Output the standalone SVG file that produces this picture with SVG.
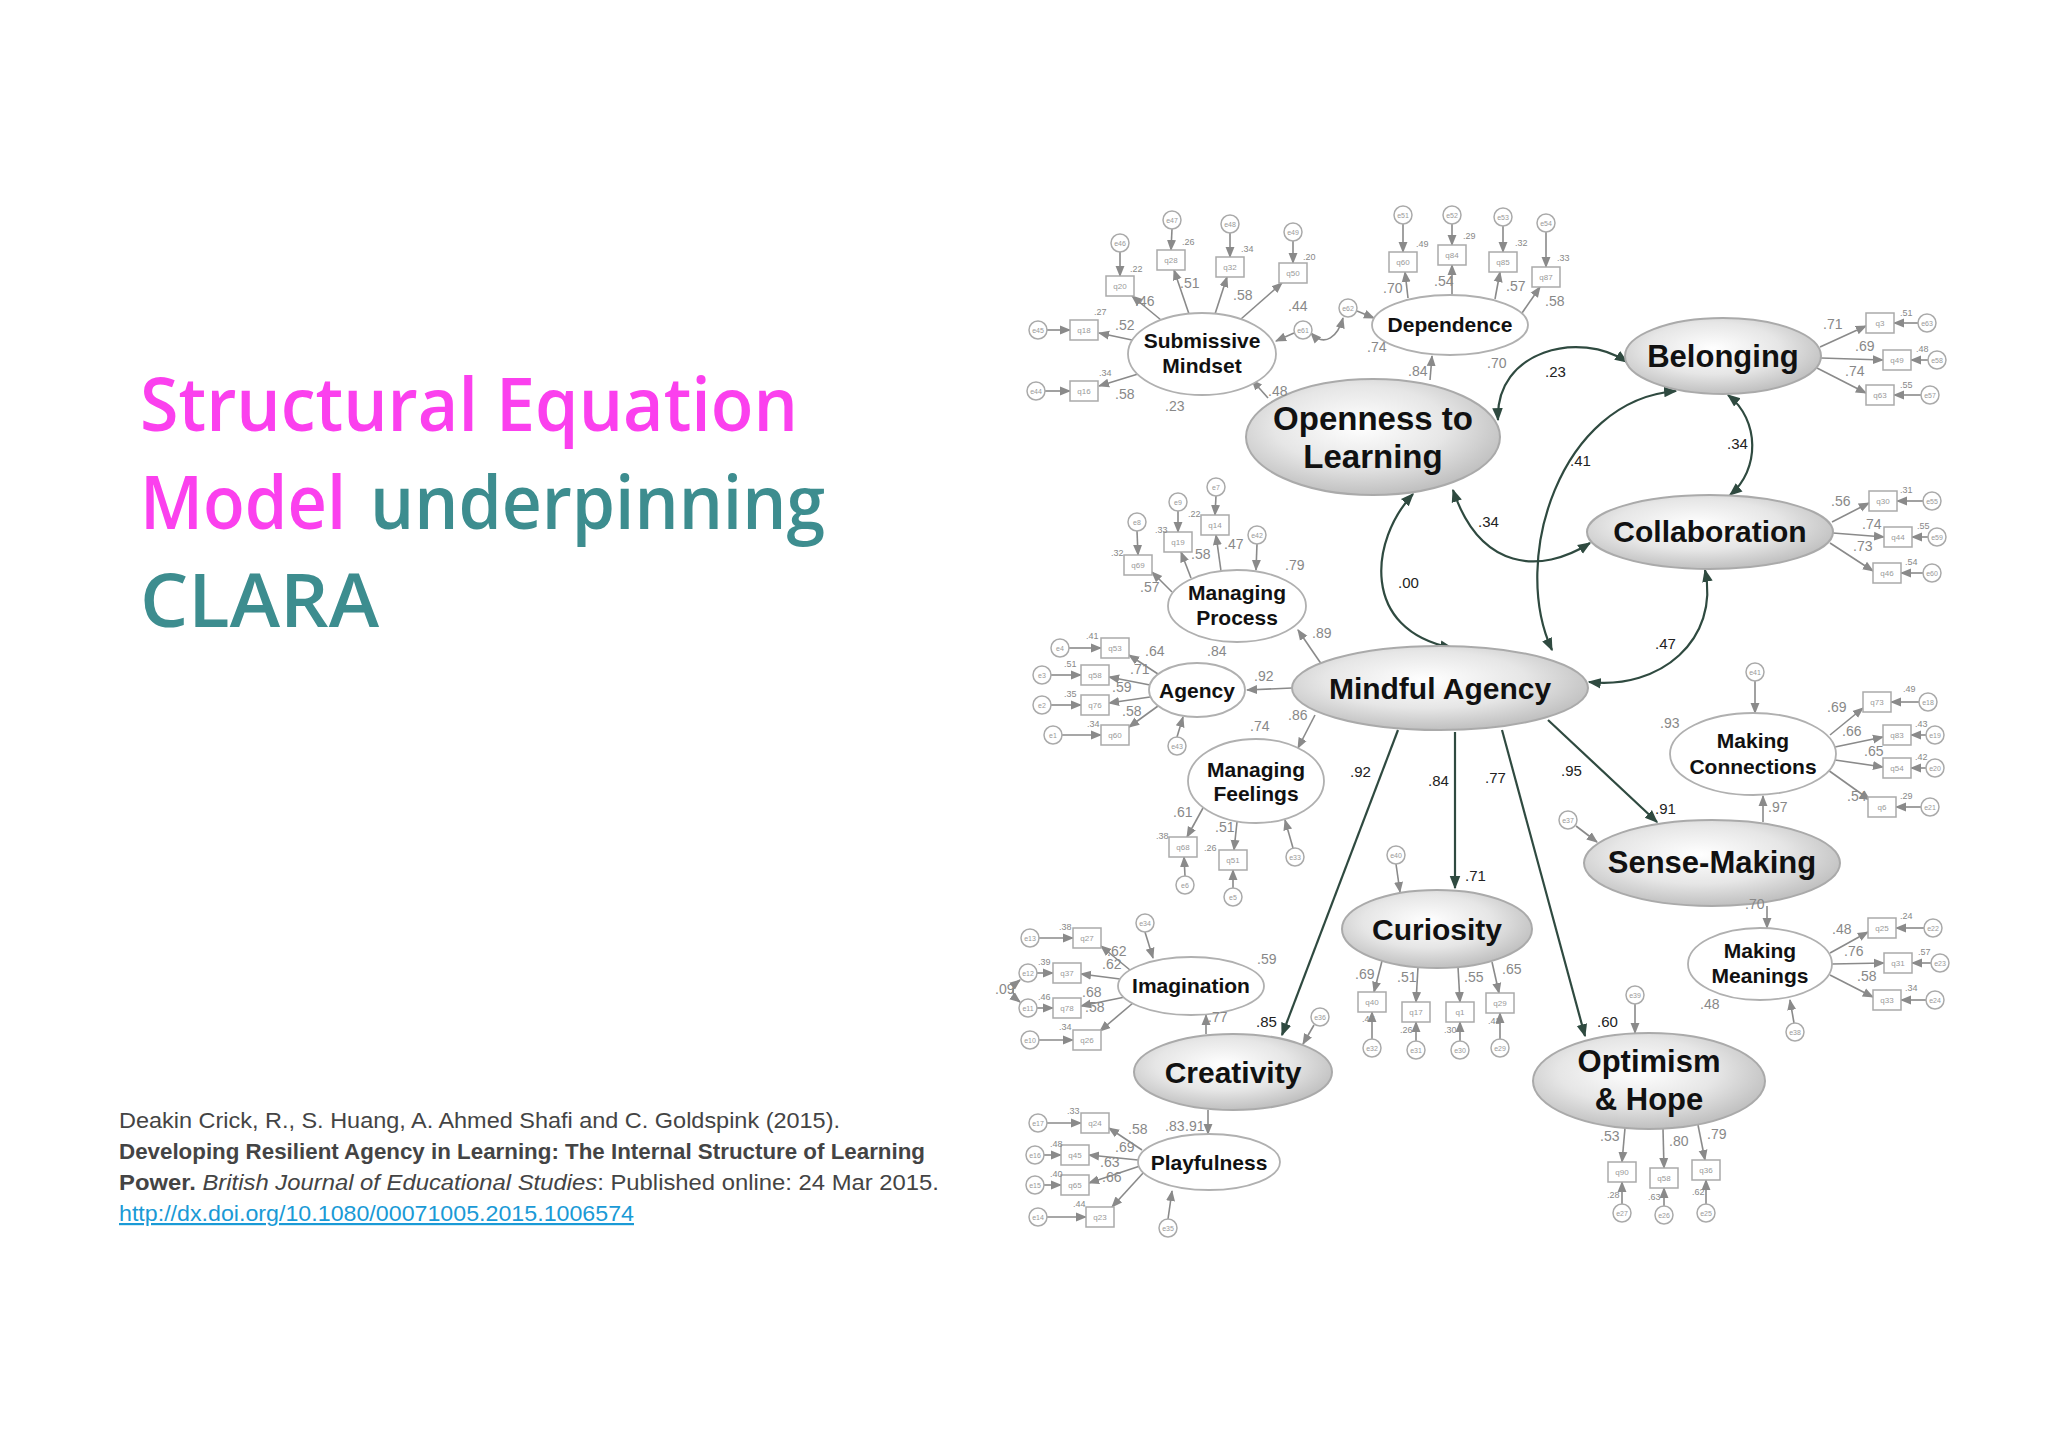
<svg xmlns="http://www.w3.org/2000/svg" width="2048" height="1447" viewBox="0 0 2048 1447">
<style>
.t{font-family:"Liberation Sans",Arial,sans-serif}
.lat{fill:url(#g);stroke:#aaa;stroke-width:2}
.sm{fill:#fff;stroke:#b0b0b0;stroke-width:1.8}
.nb{font-family:"Liberation Sans",Arial,sans-serif;font-weight:bold;fill:#111;text-anchor:middle}
.box{fill:#fff;stroke:#aaa;stroke-width:1.5}
.err{fill:#fff;stroke:#aaa;stroke-width:1.5}
.bl{font-family:"Liberation Sans",Arial,sans-serif;font-size:8px;fill:#999;text-anchor:middle}
.el{font-family:"Liberation Sans",Arial,sans-serif;font-size:7px;fill:#999;text-anchor:middle}
.sq{font-family:"Liberation Sans",Arial,sans-serif;font-size:9px;fill:#888}
.ld{font-family:"Liberation Sans",Arial,sans-serif;font-size:14px;fill:#888}
.sl{font-family:"Liberation Sans",Arial,sans-serif;font-size:15px;fill:#222}
.gl{stroke:#8a8a8a;stroke-width:1.6;fill:none;marker-end:url(#ag)}
.dl{stroke:#2f4a40;stroke-width:2.2;fill:none;marker-end:url(#ad)}
.dc{stroke:#2f4a40;stroke-width:2.2;fill:none;marker-end:url(#ad);marker-start:url(#ad)}
.ti{font-family:"Open Sans","Noto Sans",sans-serif;font-size:74px;font-weight:600}
</style>
<defs>
<radialGradient id="g" cx="45%" cy="40%" r="62%">
<stop offset="0" stop-color="#ffffff"/><stop offset="0.55" stop-color="#e6e6e6"/><stop offset="1" stop-color="#bdbdbd"/>
</radialGradient>
<marker id="ag" viewBox="0 0 10 10" refX="9" refY="5" markerWidth="7" markerHeight="7" orient="auto-start-reverse"><path d="M0,1L10,5L0,9z" fill="#8a8a8a"/></marker>
<marker id="ad" viewBox="0 0 10 10" refX="9" refY="5" markerWidth="6" markerHeight="6" orient="auto-start-reverse"><path d="M0,1L10,5L0,9z" fill="#2f4a40"/></marker>
</defs>
<rect width="2048" height="1447" fill="#fff"/>

<g id="title">
<text class="ti" x="140" y="431" fill="#fb40ee" textLength="658" lengthAdjust="spacingAndGlyphs">Structural Equation</text>
<text class="ti" x="140" y="529" fill="#fb40ee" textLength="206" lengthAdjust="spacingAndGlyphs">Model</text>
<text class="ti" x="370" y="529" fill="#3d8d8f" textLength="455" lengthAdjust="spacingAndGlyphs">underpinning</text>
<text class="ti" x="140" y="627" fill="#3d8d8f" textLength="239" lengthAdjust="spacingAndGlyphs">CLARA</text>
</g>
<g id="citation" class="t" font-size="22" fill="#444">
<text x="119" y="1128" textLength="721" lengthAdjust="spacingAndGlyphs">Deakin Crick, R., S. Huang, A. Ahmed Shafi and C. Goldspink (2015).</text>
<text x="119" y="1159" font-weight="bold" textLength="806" lengthAdjust="spacingAndGlyphs">Developing Resilient Agency in Learning: The Internal Structure of Learning</text>
<text x="119" y="1190" textLength="820" lengthAdjust="spacingAndGlyphs"><tspan font-weight="bold">Power.</tspan> <tspan font-style="italic">British Journal of Educational Studies</tspan>: Published online: 24 Mar 2015.</text>
<text x="119" y="1221" fill="#1a9ad6" text-decoration="underline" textLength="515" lengthAdjust="spacingAndGlyphs">http://dx.doi.org/10.1080/00071005.2015.1006574</text>
</g>

<g id="connectors">
<path class="dl" d="M1398,730 L1282,1035"/>
<path class="dl" d="M1455,732 L1455,888"/>
<path class="dl" d="M1502,730 L1585,1036"/>
<path class="dl" d="M1548,720 L1657,822"/>
<path class="dc" d="M1498,420 C1495,350 1580,330 1627,362"/>
<path class="dc" d="M1728,395 C1760,420 1760,470 1730,495"/>
<path class="dc" d="M1453,490 C1480,570 1540,575 1590,543"/>
<path class="dc" d="M1676,391 C1560,400 1510,560 1552,650"/>
<path class="dc" d="M1589,682 C1660,690 1720,640 1705,570"/>
<path class="dc" d="M1413,494 C1370,540 1360,630 1452,648"/>
<path class="gl" d="M1268,398 L1252,380"/>
<path class="gl" d="M1430,380 L1432,356"/>
<path class="gl" d="M1322,665 L1298,630"/>
<path class="gl" d="M1292,688 L1247,690"/>
<path class="gl" d="M1315,715 L1298,748"/>
<path class="gl" d="M1206,1034 L1206,1015"/>
<path class="gl" d="M1208,1110 L1208,1134"/>
<path class="gl" d="M1763,822 L1763,796"/>
<path class="gl" d="M1767,906 L1767,928"/>
<path class="gl" d="M1294,333 L1276,341"/>
<path class="gl" d="M1357,311 L1374,318"/>
<path class="gl" d="M1311,333 C1325,348 1338,336 1343,318" marker-start="url(#ag)"/>
<path class="gl" d="M1257,544 L1256,570"/>
<path class="gl" d="M1177,737 L1183,717"/>
<path class="gl" d="M1293,848 L1285,820"/>
<path class="gl" d="M1396,864 L1400,892"/>
<path class="gl" d="M1145,932 L1153,958"/>
<path class="gl" d="M1314,1025 L1303,1044"/>
<path class="gl" d="M1168,1219 L1172,1191"/>
<path class="gl" d="M1576,826 L1597,842"/>
<path class="gl" d="M1755,681 L1755,713"/>
<path class="gl" d="M1794,1023 L1790,1000"/>
<path class="gl" d="M1635,1004 L1635,1033"/>
<path class="gl" d="M1020,980 Q1006,991 1020,1002" marker-start="url(#ag)"/>
<path class="gl" d="M1161,320 L1132,296"/><path class="gl" d="M1120,252 L1120,276"/>
<path class="gl" d="M1189,314 L1174,270"/><path class="gl" d="M1172,229 L1171,250"/>
<path class="gl" d="M1215,314 L1227,277"/><path class="gl" d="M1230,233 L1230,257"/>
<path class="gl" d="M1241,319 L1282,283"/><path class="gl" d="M1293,241 L1293,263"/>
<path class="gl" d="M1132,340 L1099,333"/><path class="gl" d="M1047,330 L1070,330"/>
<path class="gl" d="M1138,374 L1099,386"/><path class="gl" d="M1045,391 L1070,391"/>
<path class="gl" d="M1408,298 L1405,272"/><path class="gl" d="M1403,224 L1403,252"/>
<path class="gl" d="M1452,295 L1452,265"/><path class="gl" d="M1452,224 L1452,245"/>
<path class="gl" d="M1495,299 L1500,272"/><path class="gl" d="M1503,226 L1503,252"/>
<path class="gl" d="M1522,313 L1540,287"/><path class="gl" d="M1546,232 L1546,267"/>
<path class="gl" d="M1820,347 L1866,326"/><path class="gl" d="M1918,323 L1894,323"/>
<path class="gl" d="M1821,358 L1883,360"/><path class="gl" d="M1928,360 L1911,360"/>
<path class="gl" d="M1817,368 L1866,393"/><path class="gl" d="M1921,395 L1894,395"/>
<path class="gl" d="M1832,522 L1869,503"/><path class="gl" d="M1923,501 L1897,501"/>
<path class="gl" d="M1833,533 L1884,537"/><path class="gl" d="M1928,537 L1912,537"/>
<path class="gl" d="M1830,543 L1873,571"/><path class="gl" d="M1923,573 L1901,573"/>
<path class="gl" d="M1172,592 L1152,572"/><path class="gl" d="M1137,531 L1138,555"/>
<path class="gl" d="M1191,578 L1181,552"/><path class="gl" d="M1178,511 L1178,532"/>
<path class="gl" d="M1221,571 L1216,535"/><path class="gl" d="M1216,496 L1215,515"/>
<path class="gl" d="M1158,674 L1129,655"/><path class="gl" d="M1069,648 L1101,648"/>
<path class="gl" d="M1150,685 L1109,677"/><path class="gl" d="M1051,675 L1081,675"/>
<path class="gl" d="M1150,697 L1109,703"/><path class="gl" d="M1051,705 L1081,705"/>
<path class="gl" d="M1158,706 L1129,727"/><path class="gl" d="M1062,735 L1101,735"/>
<path class="gl" d="M1203,808 L1187,837"/><path class="gl" d="M1185,876 L1184,857"/>
<path class="gl" d="M1237,822 L1234,850"/><path class="gl" d="M1233,888 L1233,870"/>
<path class="gl" d="M1382,961 L1374,992"/><path class="gl" d="M1372,1039 L1372,1012"/>
<path class="gl" d="M1418,967 L1416,1002"/><path class="gl" d="M1416,1041 L1416,1022"/>
<path class="gl" d="M1458,967 L1460,1002"/><path class="gl" d="M1460,1041 L1460,1022"/>
<path class="gl" d="M1492,962 L1499,993"/><path class="gl" d="M1500,1039 L1500,1013"/>
<path class="gl" d="M1130,970 L1101,946"/><path class="gl" d="M1039,938 L1073,938"/>
<path class="gl" d="M1120,979 L1081,974"/><path class="gl" d="M1037,973 L1053,973"/>
<path class="gl" d="M1125,997 L1081,1006"/><path class="gl" d="M1037,1008 L1053,1008"/>
<path class="gl" d="M1133,1003 L1100,1031"/><path class="gl" d="M1039,1040 L1073,1040"/>
<path class="gl" d="M1142,1150 L1109,1128"/><path class="gl" d="M1047,1123 L1081,1123"/>
<path class="gl" d="M1138,1160 L1089,1155"/><path class="gl" d="M1044,1155 L1061,1155"/>
<path class="gl" d="M1140,1166 L1089,1183"/><path class="gl" d="M1044,1185 L1061,1185"/>
<path class="gl" d="M1144,1172 L1112,1207"/><path class="gl" d="M1047,1217 L1086,1217"/>
<path class="gl" d="M1830,735 L1863,708"/><path class="gl" d="M1919,702 L1891,702"/>
<path class="gl" d="M1835,747 L1883,737"/><path class="gl" d="M1926,735 L1911,735"/>
<path class="gl" d="M1835,760 L1883,767"/><path class="gl" d="M1926,768 L1911,768"/>
<path class="gl" d="M1828,770 L1870,800"/><path class="gl" d="M1921,807 L1896,807"/>
<path class="gl" d="M1830,953 L1868,932"/><path class="gl" d="M1924,928 L1896,928"/>
<path class="gl" d="M1832,964 L1884,963"/><path class="gl" d="M1931,963 L1912,963"/>
<path class="gl" d="M1830,975 L1873,997"/><path class="gl" d="M1926,1000 L1901,1000"/>
<path class="gl" d="M1625,1128 L1622,1162"/><path class="gl" d="M1622,1204 L1622,1182"/>
<path class="gl" d="M1663,1129 L1664,1168"/><path class="gl" d="M1664,1206 L1664,1188"/>
<path class="gl" d="M1698,1125 L1705,1160"/><path class="gl" d="M1706,1204 L1706,1180"/>
</g>

<g id="openness"><ellipse class="lat" cx="1373" cy="437" rx="127" ry="58"/><text class="nb" font-size="33" x="1373" y="430">Openness to</text><text class="nb" font-size="33" x="1373" y="468">Learning</text></g>
<g id="belonging"><ellipse class="lat" cx="1723" cy="356" rx="98" ry="38"/><text class="nb" font-size="31" x="1723" y="367">Belonging</text></g>
<g id="collaboration"><ellipse class="lat" cx="1710" cy="532" rx="123" ry="37"/><text class="nb" font-size="30" x="1710" y="542">Collaboration</text></g>
<g id="mindful-agency"><ellipse class="lat" cx="1440" cy="688" rx="148" ry="42"/><text class="nb" font-size="30" x="1440" y="699">Mindful Agency</text></g>
<g id="sense-making"><ellipse class="lat" cx="1712" cy="863" rx="128" ry="43"/><text class="nb" font-size="31" x="1712" y="873">Sense-Making</text></g>
<g id="curiosity"><ellipse class="lat" cx="1437" cy="929" rx="95" ry="39"/><text class="nb" font-size="30" x="1437" y="940">Curiosity</text></g>
<g id="creativity"><ellipse class="lat" cx="1233" cy="1072" rx="99" ry="38"/><text class="nb" font-size="30" x="1233" y="1083">Creativity</text></g>
<g id="optimism"><ellipse class="lat" cx="1649" cy="1081" rx="116" ry="48"/><text class="nb" font-size="31" x="1649" y="1072">Optimism</text><text class="nb" font-size="31" x="1649" y="1110">&amp; Hope</text></g>
<g id="submissive"><ellipse class="sm" cx="1202" cy="354" rx="74" ry="41"/><text class="nb" font-size="21" x="1202" y="348">Submissive</text><text class="nb" font-size="21" x="1202" y="373">Mindset</text></g>
<g id="dependence"><ellipse class="sm" cx="1450" cy="325" rx="78" ry="30"/><text class="nb" font-size="21" x="1450" y="332">Dependence</text></g>
<g id="managing-process"><ellipse class="sm" cx="1237" cy="606" rx="69" ry="36"/><text class="nb" font-size="21" x="1237" y="600">Managing</text><text class="nb" font-size="21" x="1237" y="625">Process</text></g>
<g id="agency"><ellipse class="sm" cx="1197" cy="690" rx="48" ry="27"/><text class="nb" font-size="21" x="1197" y="698">Agency</text></g>
<g id="managing-feelings"><ellipse class="sm" cx="1256" cy="781" rx="68" ry="42"/><text class="nb" font-size="21" x="1256" y="777">Managing</text><text class="nb" font-size="21" x="1256" y="801">Feelings</text></g>
<g id="making-connections"><ellipse class="sm" cx="1753" cy="754" rx="83" ry="41"/><text class="nb" font-size="21" x="1753" y="748">Making</text><text class="nb" font-size="21" x="1753" y="774">Connections</text></g>
<g id="making-meanings"><ellipse class="sm" cx="1760" cy="964" rx="72" ry="36"/><text class="nb" font-size="21" x="1760" y="958">Making</text><text class="nb" font-size="21" x="1760" y="983">Meanings</text></g>
<g id="imagination"><ellipse class="sm" cx="1191" cy="986" rx="73" ry="29"/><text class="nb" font-size="21" x="1191" y="993">Imagination</text></g>
<g id="playfulness"><ellipse class="sm" cx="1209" cy="1162" rx="71" ry="28"/><text class="nb" font-size="21" x="1209" y="1170">Playfulness</text></g>

<g id="indicators">
<g id="ind-boxes">
<rect class="box" x="1106" y="276" width="28" height="20"/><text class="bl" x="1120" y="289">q20</text>
<rect class="box" x="1157" y="250" width="28" height="20"/><text class="bl" x="1171" y="263">q28</text>
<rect class="box" x="1216" y="257" width="28" height="20"/><text class="bl" x="1230" y="270">q32</text>
<rect class="box" x="1279" y="263" width="28" height="20"/><text class="bl" x="1293" y="276">q50</text>
<rect class="box" x="1070" y="320" width="28" height="20"/><text class="bl" x="1084" y="333">q18</text>
<rect class="box" x="1070" y="381" width="28" height="20"/><text class="bl" x="1084" y="394">q16</text>
<rect class="box" x="1389" y="252" width="28" height="20"/><text class="bl" x="1403" y="265">q60</text>
<rect class="box" x="1438" y="245" width="28" height="20"/><text class="bl" x="1452" y="258">q84</text>
<rect class="box" x="1489" y="252" width="28" height="20"/><text class="bl" x="1503" y="265">q85</text>
<rect class="box" x="1532" y="267" width="28" height="20"/><text class="bl" x="1546" y="280">q87</text>
<rect class="box" x="1866" y="313" width="28" height="20"/><text class="bl" x="1880" y="326">q3</text>
<rect class="box" x="1883" y="350" width="28" height="20"/><text class="bl" x="1897" y="363">q49</text>
<rect class="box" x="1866" y="385" width="28" height="20"/><text class="bl" x="1880" y="398">q63</text>
<rect class="box" x="1869" y="491" width="28" height="20"/><text class="bl" x="1883" y="504">q30</text>
<rect class="box" x="1884" y="527" width="28" height="20"/><text class="bl" x="1898" y="540">q44</text>
<rect class="box" x="1873" y="563" width="28" height="20"/><text class="bl" x="1887" y="576">q46</text>
<rect class="box" x="1124" y="555" width="28" height="20"/><text class="bl" x="1138" y="568">q69</text>
<rect class="box" x="1164" y="532" width="28" height="20"/><text class="bl" x="1178" y="545">q19</text>
<rect class="box" x="1201" y="515" width="28" height="20"/><text class="bl" x="1215" y="528">q14</text>
<rect class="box" x="1101" y="638" width="28" height="20"/><text class="bl" x="1115" y="651">q53</text>
<rect class="box" x="1081" y="665" width="28" height="20"/><text class="bl" x="1095" y="678">q58</text>
<rect class="box" x="1081" y="695" width="28" height="20"/><text class="bl" x="1095" y="708">q76</text>
<rect class="box" x="1101" y="725" width="28" height="20"/><text class="bl" x="1115" y="738">q60</text>
<rect class="box" x="1169" y="837" width="28" height="20"/><text class="bl" x="1183" y="850">q68</text>
<rect class="box" x="1219" y="850" width="28" height="20"/><text class="bl" x="1233" y="863">q51</text>
<rect class="box" x="1358" y="992" width="28" height="20"/><text class="bl" x="1372" y="1005">q40</text>
<rect class="box" x="1402" y="1002" width="28" height="20"/><text class="bl" x="1416" y="1015">q17</text>
<rect class="box" x="1446" y="1002" width="28" height="20"/><text class="bl" x="1460" y="1015">q1</text>
<rect class="box" x="1486" y="993" width="28" height="20"/><text class="bl" x="1500" y="1006">q29</text>
<rect class="box" x="1073" y="928" width="28" height="20"/><text class="bl" x="1087" y="941">q27</text>
<rect class="box" x="1053" y="963" width="28" height="20"/><text class="bl" x="1067" y="976">q37</text>
<rect class="box" x="1053" y="998" width="28" height="20"/><text class="bl" x="1067" y="1011">q78</text>
<rect class="box" x="1073" y="1030" width="28" height="20"/><text class="bl" x="1087" y="1043">q26</text>
<rect class="box" x="1081" y="1113" width="28" height="20"/><text class="bl" x="1095" y="1126">q24</text>
<rect class="box" x="1061" y="1145" width="28" height="20"/><text class="bl" x="1075" y="1158">q45</text>
<rect class="box" x="1061" y="1175" width="28" height="20"/><text class="bl" x="1075" y="1188">q65</text>
<rect class="box" x="1086" y="1207" width="28" height="20"/><text class="bl" x="1100" y="1220">q23</text>
<rect class="box" x="1863" y="692" width="28" height="20"/><text class="bl" x="1877" y="705">q73</text>
<rect class="box" x="1883" y="725" width="28" height="20"/><text class="bl" x="1897" y="738">q83</text>
<rect class="box" x="1883" y="758" width="28" height="20"/><text class="bl" x="1897" y="771">q54</text>
<rect class="box" x="1868" y="797" width="28" height="20"/><text class="bl" x="1882" y="810">q6</text>
<rect class="box" x="1868" y="918" width="28" height="20"/><text class="bl" x="1882" y="931">q25</text>
<rect class="box" x="1884" y="953" width="28" height="20"/><text class="bl" x="1898" y="966">q31</text>
<rect class="box" x="1873" y="990" width="28" height="20"/><text class="bl" x="1887" y="1003">q33</text>
<rect class="box" x="1608" y="1162" width="28" height="20"/><text class="bl" x="1622" y="1175">q90</text>
<rect class="box" x="1650" y="1168" width="28" height="20"/><text class="bl" x="1664" y="1181">q58</text>
<rect class="box" x="1692" y="1160" width="28" height="20"/><text class="bl" x="1706" y="1173">q36</text>
</g>
<g id="ind-errors">
<circle class="err" cx="1120" cy="243" r="9"/><text class="el" x="1120" y="246">e46</text>
<circle class="err" cx="1172" cy="220" r="9"/><text class="el" x="1172" y="223">e47</text>
<circle class="err" cx="1230" cy="224" r="9"/><text class="el" x="1230" y="227">e48</text>
<circle class="err" cx="1293" cy="232" r="9"/><text class="el" x="1293" y="235">e49</text>
<circle class="err" cx="1038" cy="330" r="9"/><text class="el" x="1038" y="333">e45</text>
<circle class="err" cx="1036" cy="391" r="9"/><text class="el" x="1036" y="394">e44</text>
<circle class="err" cx="1303" cy="330" r="9"/><text class="el" x="1303" y="333">e61</text>
<circle class="err" cx="1348" cy="308" r="9"/><text class="el" x="1348" y="311">e62</text>
<circle class="err" cx="1403" cy="215" r="9"/><text class="el" x="1403" y="218">e51</text>
<circle class="err" cx="1452" cy="215" r="9"/><text class="el" x="1452" y="218">e52</text>
<circle class="err" cx="1503" cy="217" r="9"/><text class="el" x="1503" y="220">e53</text>
<circle class="err" cx="1546" cy="223" r="9"/><text class="el" x="1546" y="226">e54</text>
<circle class="err" cx="1927" cy="323" r="9"/><text class="el" x="1927" y="326">e63</text>
<circle class="err" cx="1937" cy="360" r="9"/><text class="el" x="1937" y="363">e58</text>
<circle class="err" cx="1930" cy="395" r="9"/><text class="el" x="1930" y="398">e57</text>
<circle class="err" cx="1932" cy="501" r="9"/><text class="el" x="1932" y="504">e55</text>
<circle class="err" cx="1937" cy="537" r="9"/><text class="el" x="1937" y="540">e59</text>
<circle class="err" cx="1932" cy="573" r="9"/><text class="el" x="1932" y="576">e60</text>
<circle class="err" cx="1137" cy="522" r="9"/><text class="el" x="1137" y="525">e8</text>
<circle class="err" cx="1178" cy="502" r="9"/><text class="el" x="1178" y="505">e9</text>
<circle class="err" cx="1216" cy="487" r="9"/><text class="el" x="1216" y="490">e7</text>
<circle class="err" cx="1257" cy="535" r="9"/><text class="el" x="1257" y="538">e42</text>
<circle class="err" cx="1060" cy="648" r="9"/><text class="el" x="1060" y="651">e4</text>
<circle class="err" cx="1042" cy="675" r="9"/><text class="el" x="1042" y="678">e3</text>
<circle class="err" cx="1042" cy="705" r="9"/><text class="el" x="1042" y="708">e2</text>
<circle class="err" cx="1053" cy="735" r="9"/><text class="el" x="1053" y="738">e1</text>
<circle class="err" cx="1177" cy="746" r="9"/><text class="el" x="1177" y="749">e43</text>
<circle class="err" cx="1185" cy="885" r="9"/><text class="el" x="1185" y="888">e6</text>
<circle class="err" cx="1233" cy="897" r="9"/><text class="el" x="1233" y="900">e5</text>
<circle class="err" cx="1295" cy="857" r="9"/><text class="el" x="1295" y="860">e33</text>
<circle class="err" cx="1396" cy="855" r="9"/><text class="el" x="1396" y="858">e40</text>
<circle class="err" cx="1372" cy="1048" r="9"/><text class="el" x="1372" y="1051">e32</text>
<circle class="err" cx="1416" cy="1050" r="9"/><text class="el" x="1416" y="1053">e31</text>
<circle class="err" cx="1460" cy="1050" r="9"/><text class="el" x="1460" y="1053">e30</text>
<circle class="err" cx="1500" cy="1048" r="9"/><text class="el" x="1500" y="1051">e29</text>
<circle class="err" cx="1030" cy="938" r="9"/><text class="el" x="1030" y="941">e13</text>
<circle class="err" cx="1028" cy="973" r="9"/><text class="el" x="1028" y="976">e12</text>
<circle class="err" cx="1028" cy="1008" r="9"/><text class="el" x="1028" y="1011">e11</text>
<circle class="err" cx="1030" cy="1040" r="9"/><text class="el" x="1030" y="1043">e10</text>
<circle class="err" cx="1145" cy="923" r="9"/><text class="el" x="1145" y="926">e34</text>
<circle class="err" cx="1320" cy="1017" r="9"/><text class="el" x="1320" y="1020">e36</text>
<circle class="err" cx="1038" cy="1123" r="9"/><text class="el" x="1038" y="1126">e17</text>
<circle class="err" cx="1035" cy="1155" r="9"/><text class="el" x="1035" y="1158">e16</text>
<circle class="err" cx="1035" cy="1185" r="9"/><text class="el" x="1035" y="1188">e15</text>
<circle class="err" cx="1038" cy="1217" r="9"/><text class="el" x="1038" y="1220">e14</text>
<circle class="err" cx="1168" cy="1228" r="9"/><text class="el" x="1168" y="1231">e35</text>
<circle class="err" cx="1568" cy="820" r="9"/><text class="el" x="1568" y="823">e37</text>
<circle class="err" cx="1755" cy="672" r="9"/><text class="el" x="1755" y="675">e41</text>
<circle class="err" cx="1928" cy="702" r="9"/><text class="el" x="1928" y="705">e18</text>
<circle class="err" cx="1935" cy="735" r="9"/><text class="el" x="1935" y="738">e19</text>
<circle class="err" cx="1935" cy="768" r="9"/><text class="el" x="1935" y="771">e20</text>
<circle class="err" cx="1930" cy="807" r="9"/><text class="el" x="1930" y="810">e21</text>
<circle class="err" cx="1933" cy="928" r="9"/><text class="el" x="1933" y="931">e22</text>
<circle class="err" cx="1940" cy="963" r="9"/><text class="el" x="1940" y="966">e23</text>
<circle class="err" cx="1935" cy="1000" r="9"/><text class="el" x="1935" y="1003">e24</text>
<circle class="err" cx="1795" cy="1032" r="9"/><text class="el" x="1795" y="1035">e38</text>
<circle class="err" cx="1635" cy="995" r="9"/><text class="el" x="1635" y="998">e39</text>
<circle class="err" cx="1622" cy="1213" r="9"/><text class="el" x="1622" y="1216">e27</text>
<circle class="err" cx="1664" cy="1215" r="9"/><text class="el" x="1664" y="1218">e26</text>
<circle class="err" cx="1706" cy="1213" r="9"/><text class="el" x="1706" y="1216">e25</text>
</g>
</g>

<g id="labels">
<g class="sl">
<text x="1545" y="377">.23</text><text x="1727" y="449">.34</text><text x="1478" y="527">.34</text><text x="1570" y="466">.41</text>
<text x="1655" y="649">.47</text><text x="1398" y="588">.00</text><text x="1350" y="777">.92</text><text x="1428" y="786">.84</text>
<text x="1485" y="783">.77</text><text x="1561" y="776">.95</text><text x="1655" y="814">.91</text><text x="1465" y="881">.71</text>
<text x="1256" y="1027">.85</text><text x="1597" y="1027">.60</text>
</g>
<g class="ld">
<text x="1135" y="306">.46</text><text x="1180" y="288">.51</text><text x="1233" y="300">.58</text><text x="1288" y="311">.44</text>
<text x="1115" y="330">.52</text><text x="1115" y="399">.58</text><text x="1165" y="411">.23</text><text x="1268" y="396">.48</text>
<text x="1383" y="293">.70</text><text x="1434" y="286">.54</text><text x="1506" y="291">.57</text><text x="1545" y="306">.58</text>
<text x="1408" y="376">.84</text><text x="1487" y="368">.70</text><text x="1367" y="352">.74</text>
<text x="1823" y="329">.71</text><text x="1855" y="351">.69</text><text x="1845" y="376">.74</text>
<text x="1831" y="506">.56</text><text x="1862" y="529">.74</text><text x="1853" y="551">.73</text>
<text x="1140" y="592">.57</text><text x="1191" y="559">.58</text><text x="1224" y="549">.47</text><text x="1285" y="570">.79</text>
<text x="1312" y="638">.89</text><text x="1207" y="656">.84</text><text x="1254" y="681">.92</text><text x="1288" y="720">.86</text><text x="1250" y="731">.74</text>
<text x="1145" y="656">.64</text><text x="1130" y="674">.71</text><text x="1112" y="692">.59</text><text x="1122" y="716">.58</text>
<text x="1173" y="817">.61</text><text x="1215" y="832">.51</text>
<text x="1355" y="979">.69</text><text x="1397" y="982">.51</text><text x="1464" y="982">.55</text><text x="1502" y="974">.65</text>
<text x="1107" y="956">.62</text><text x="1102" y="969">.62</text><text x="1082" y="997">.68</text><text x="1085" y="1012">.58</text>
<text x="995" y="994">.09</text><text x="1257" y="964">.59</text><text x="1208" y="1022">.77</text>
<text x="1128" y="1134">.58</text><text x="1115" y="1152">.69</text><text x="1100" y="1167">.63</text><text x="1102" y="1182">.66</text>
<text x="1165" y="1131">.83</text><text x="1185" y="1131">.91</text>
<text x="1660" y="728">.93</text><text x="1827" y="712">.69</text><text x="1842" y="736">.66</text><text x="1864" y="756">.65</text><text x="1847" y="801">.54</text>
<text x="1768" y="812">.97</text><text x="1745" y="909">.70</text>
<text x="1832" y="934">.48</text><text x="1844" y="956">.76</text><text x="1857" y="981">.58</text><text x="1700" y="1009">.48</text>
<text x="1600" y="1141">.53</text><text x="1669" y="1146">.80</text><text x="1707" y="1139">.79</text>
</g>
<g class="sq">
<text x="1130" y="272">.22</text><text x="1182" y="245">.26</text><text x="1241" y="252">.34</text><text x="1303" y="260">.20</text>
<text x="1094" y="315">.27</text><text x="1099" y="376">.34</text>
<text x="1416" y="247">.49</text><text x="1463" y="239">.29</text><text x="1515" y="246">.32</text><text x="1557" y="261">.33</text>
<text x="1900" y="316">.51</text><text x="1916" y="352">.48</text><text x="1900" y="388">.55</text>
<text x="1900" y="493">.31</text><text x="1917" y="529">.55</text><text x="1905" y="565">.54</text>
<text x="1111" y="556">.32</text><text x="1155" y="533">.33</text><text x="1188" y="517">.22</text>
<text x="1086" y="639">.41</text><text x="1064" y="667">.51</text><text x="1064" y="697">.35</text><text x="1087" y="727">.34</text>
<text x="1156" y="839">.38</text><text x="1204" y="851">.26</text>
<text x="1362" y="1022">.47</text><text x="1400" y="1033">.26</text><text x="1444" y="1033">.30</text><text x="1488" y="1024">.42</text>
<text x="1059" y="930">.38</text><text x="1038" y="965">.39</text><text x="1038" y="1000">.46</text><text x="1059" y="1030">.34</text>
<text x="1067" y="1114">.33</text><text x="1050" y="1147">.48</text><text x="1050" y="1177">.40</text><text x="1073" y="1207">.44</text>
<text x="1903" y="692">.49</text><text x="1915" y="727">.43</text><text x="1915" y="760">.42</text><text x="1900" y="799">.29</text>
<text x="1900" y="919">.24</text><text x="1918" y="955">.57</text><text x="1905" y="991">.34</text>
<text x="1607" y="1198">.28</text><text x="1648" y="1200">.63</text><text x="1692" y="1195">.62</text>
</g>
</g>
</svg>
